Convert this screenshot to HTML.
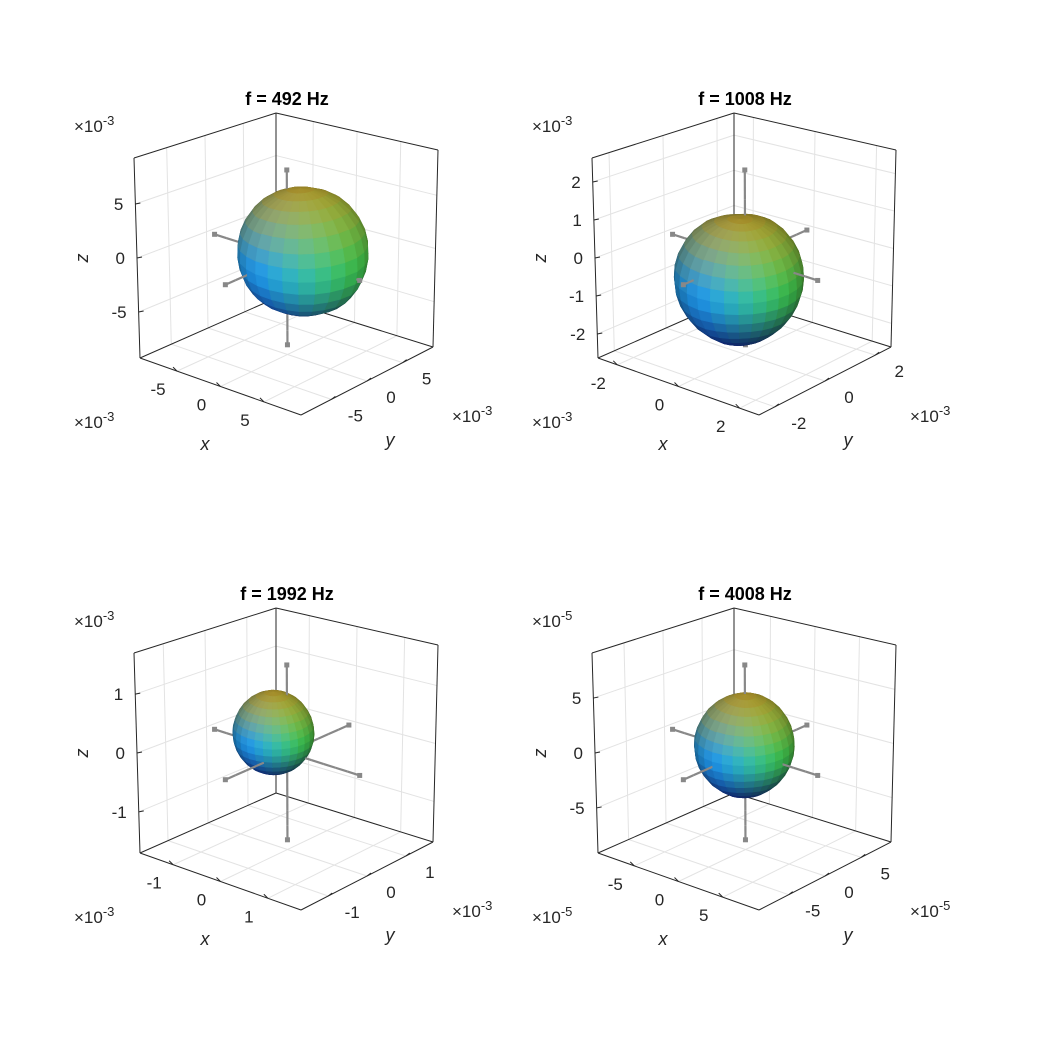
<!DOCTYPE html>
<html><head><meta charset="utf-8"><style>
html,body{margin:0;padding:0;background:#fff}
svg{display:block}
text{font-family:"Liberation Sans",sans-serif}
</style></head><body>
<svg id="fig" width="1042" height="1042" viewBox="0 0 1042 1042" xmlns="http://www.w3.org/2000/svg"></svg>
<script>
// ---- chart data ----
const titles = ["f = 492 Hz","f = 1008 Hz","f = 1992 Hz","f = 4008 Hz"];
const exponents = ["-3","-3","-3","-5"];
const limits = [9.26, 2.63, 1.7, 9.1];
const zTicks = [[-5,0,5],[-2,-1,0,1,2],[-1,0,1],[-5,0,5]];
const xyTicks = [[-5,0,5],[-2,0,2],[-1,0,1],[-5,0,5]];
const centers = [[1.3,0.3,0.6],[0.1,-0.3,-0.45],[-0.2,-0.1,0.3],[0.3,-0.3,0.7]];
// radius vs elevation (top -> bottom)
const rElev1 = [6.2,6.2,6.0,5.8,5.6,5.2,4.9];
const rElev2 = [1.6,1.65,1.6,1.58,1.58,1.62,1.75];
const rElev3 = [0.74,0.7,0.66,0.65,0.65,0.66,0.66];
const rElev4 = [4.9,4.6,4.3,4.2,4.2,4.3,4.6];
// radius multipliers vs azimuth (0,45,...,315 deg from +x)
const rAz1 = [1.12,1.0,0.88,0.85,0.88,0.95,1.05,1.12];
const rAz2 = [1.0,1.0,1.0,0.95,1.0,1.05,1.05,1.0];
const rAz3 = [1.0,1.0,1.0,1.0,1.0,1.0,1.0,1.0];
const rAz4 = [1.0,1.0,1.0,1.0,1.0,1.05,1.05,1.0];
const rElevs=[rElev1,rElev2,rElev3,rElev4], rAzs=[rAz1,rAz2,rAz3,rAz4];

const offsets=[[0,0],[458,0],[0,495],[458,495]];
const C={BL:[140,358],BF:[301,415],BR:[433,347],BB:[276,298],TL:[134,158],TF:[299,220],TR:[438,150],TB:[276,113]};
const NS="http://www.w3.org/2000/svg";
const svg=document.getElementById('fig');
function el(t,a,p){const e=document.createElementNS(NS,t);for(const k in a)e.setAttribute(k,a[k]);(p||svg).appendChild(e);return e;}
function lerp(a,b,t){return [a[0]+(b[0]-a[0])*t,a[1]+(b[1]-a[1])*t];}
function proj(u,v,w,off){
  const b0=lerp(lerp(C.BL,C.BF,u),lerp(C.BB,C.BR,u),v);
  const t0=lerp(lerp(C.TL,C.TF,u),lerp(C.TB,C.TR,u),v);
  const p=lerp(b0,t0,w);return [p[0]+off[0],p[1]+off[1]];
}
function interp(arr,t,periodic){
  const n=arr.length;
  if(periodic){const f=t*n;const i=Math.floor(f)%n;const j=(i+1)%n;const r=f-Math.floor(f);return arr[i]*(1-r)+arr[j]*r;}
  const f=t*(n-1);const i=Math.min(Math.floor(f),n-2);const r=f-i;return arr[i]*(1-r)+arr[i+1]*r;
}
const dirs=[[[0,0,1],[175,150,45],1.8],[[0,0,-1],[20,30,170],1],[[1,0,0],[60,200,80],1],[[0,-1,0],[30,150,235],1],[[0,1,0],[130,175,40],1],[[-1,0,0],[40,130,170],1]];
const Ld=(()=>{const l=[0.5,-0.7,0.6];const m=Math.hypot(...l);return l.map(x=>x/m);})();

for(let p=0;p<4;p++){
  const off=offsets[p], lim=limits[p];
  const g=el('g',{});
  const U=x=>(x+lim)/(2*lim);
  const P=(x,y,z)=>proj(U(x),U(y),U(z),off);
  const line=(a,b,attrs,parent)=>el('line',Object.assign({x1:a[0],y1:a[1],x2:b[0],y2:b[1]},attrs),parent);
  const grid=el('g',{},g);
  const ga={stroke:'#e3e3e3','stroke-width':1};
  for(const t of xyTicks[p]){const s=U(t);
    line(proj(0,s,0,off),proj(0,s,1,off),ga,grid);
    line(proj(s,1,0,off),proj(s,1,1,off),ga,grid);
    line(proj(s,0,0,off),proj(s,1,0,off),ga,grid);
    line(proj(0,s,0,off),proj(1,s,0,off),ga,grid);
  }
  for(const t of zTicks[p]){const s=U(t);
    line(proj(0,0,s,off),proj(0,1,s,off),ga,grid);
    line(proj(0,1,s,off),proj(1,1,s,off),ga,grid);
  }
  const box=el('g',{},g);
  const ba={stroke:'#262626','stroke-width':1};
  const pc=k=>[C[k][0]+off[0],C[k][1]+off[1]];
  [['TL','TB'],['TB','TR'],['TB','BB'],['TL','BL'],['BL','BF'],['BF','BR'],['BR','TR'],['BB','BL'],['BB','BR']].forEach(e=>line(pc(e[0]),pc(e[1]),ba,box));
  const tl=el('g',{},g);
  for(const t of zTicks[p]){const q=proj(0,0,U(t),off);
    line(q,[q[0]+5,q[1]-1],ba,box);
    const tx=el('text',{x:q[0]-12,y:q[1]+6,'text-anchor':'end','font-size':17,fill:'#262626'},tl);tx.textContent=t;}
  for(const t of xyTicks[p]){const q=proj(U(t),0,0,off);
    line(q,[q[0]-4,q[1]-4],ba,box);
    const tx=el('text',{x:q[0]-19,y:q[1]+24,'text-anchor':'middle','font-size':17,fill:'#262626'},tl);tx.textContent=t;
    const r=proj(1,U(t),0,off);
    line(r,[r[0]+4,r[1]-3],ba,box);
    const ty=el('text',{x:r[0]+24,y:r[1]+22,'text-anchor':'middle','font-size':17,fill:'#262626'},tl);ty.textContent=t;}
  const ex=[[74,132],[74,428],[452,422]];
  ex.forEach((e,i)=>{const t=el('text',{x:e[0]+off[0],y:e[1]+off[1],'font-size':17,fill:'#262626'},g);
    
    
    t.innerHTML='×10<tspan dy="-7" font-size="13">'+exponents[p]+'</tspan>';});
  const al=(txt,x,y,rot,name)=>{const t=el('text',{x:x+off[0],y:y+off[1],'font-size':18,'font-style':'italic','font-family':'Liberation Serif, serif','text-anchor':'middle',fill:'#262626'},g);
    if(rot)t.setAttribute('transform','rotate(-90 '+(x+off[0])+' '+(y+off[1])+')');
    t.textContent=txt;};
  al('x',205,450,false,'x-axis-title');al('y',390,446,false,'y-axis-title');al('z',88,258,true,'z-axis-title');
  const tt=el('text',{x:287+off[0],y:105+off[1],'text-anchor':'middle','font-size':18,'font-weight':'bold',fill:'#000'},g);
  tt.textContent=titles[p];

  const items=[];
  const cen=centers[p], rE=rElevs[p], rA=rAzs[p];
  const NE=16, NA=28;
  const pt=(i,j)=>{const el_=Math.PI/2-Math.PI*i/NE, az=2*Math.PI*j/NA;
    const azm=1+(interp(rA,j/NA,true)-1)*Math.cos(el_);
    const r=interp(rE,i/NE,false)*azm;
    return [cen[0]+r*Math.cos(el_)*Math.cos(az),cen[1]+r*Math.cos(el_)*Math.sin(az),cen[2]+r*Math.sin(el_)];};
  const depth=q=>U(q[0])-U(q[1])+0.6*U(q[2]);
  for(let i=0;i<NE;i++)for(let j=0;j<NA;j++){
    const a=pt(i,j),b=pt(i,j+1),c=pt(i+1,j+1),d=pt(i+1,j);
    const cx=(a[0]+b[0]+c[0]+d[0])/4-cen[0],cy=(a[1]+b[1]+c[1]+d[1])/4-cen[1],cz=(a[2]+b[2]+c[2]+d[2])/4-cen[2];
    const m=Math.hypot(cx,cy,cz)||1;const n=[cx/m,cy/m,cz/m];
    let col=[0,0,0],ws=0;
    for(const [dv,cv,wt] of dirs){const w=wt*Math.pow(Math.max(0,n[0]*dv[0]+n[1]*dv[1]+n[2]*dv[2]),1.5);ws+=w;for(let k=0;k<3;k++)col[k]+=w*cv[k];}
    const sh=0.6+0.55*Math.max(0,n[0]*Ld[0]+n[1]*Ld[1]+n[2]*Ld[2]);
    col=col.map(v=>Math.min(255,Math.round(v/ws*sh)));
    const pts=[a,b,c,d].map(q=>P(q[0],q[1],q[2]));
    items.push({d:depth([cen[0]+cx,cen[1]+cy,cen[2]+cz]),type:'f',pts,col});
  }
  const L=0.9*lim;
  const ends=[[[L,0,0],[-L,0,0]],[[0,L,0],[0,-L,0]],[[0,0,L],[0,0,-L]]];
  ends.forEach((e,ai)=>{const S=12;for(let s=0;s<S;s++){
    const t0=s/S,t1=(s+1)/S;
    const q0=e[0].map((v,k)=>v+(e[1][k]-v)*t0),q1=e[0].map((v,k)=>v+(e[1][k]-v)*t1);
    const mid=q0.map((v,k)=>(v+q1[k])/2);
    items.push({d:depth(mid),type:'l',a:P(...q0),b:P(...q1)});}
    e.forEach(q=>items.push({d:depth(q),type:'dot',a:P(...q)}));});
  items.sort((a,b)=>a.d-b.d);
  const surf=el('g',{},g);
  for(const it of items){
    if(it.type==='f'){const f=el('polygon',{points:it.pts.map(q=>q[0].toFixed(1)+','+q[1].toFixed(1)).join(' '),fill:'rgb('+it.col.join(',')+')',stroke:'rgb('+it.col.join(',')+')','stroke-width':0.6},surf);
      }
    else if(it.type==='l'){const l=el('line',{x1:it.a[0],y1:it.a[1],x2:it.b[0],y2:it.b[1],stroke:'#888','stroke-width':2.2},surf);
      }
    else {const c=el('rect',{x:it.a[0]-2.5,y:it.a[1]-2.5,width:5,height:5,fill:'#888'},surf);
      }
  }
}
</script>
</body></html>
